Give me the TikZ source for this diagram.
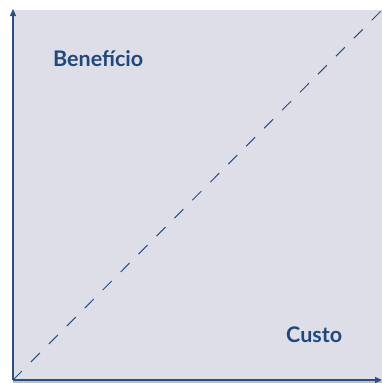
\documentclass[tikz,border=0pt]{standalone}
\usepackage{fontspec}
\setmainfont{Lato}
\usetikzlibrary{arrows.meta}
\definecolor{bgpanel}{HTML}{DEDEE8}
\definecolor{axisblue}{HTML}{2A4E80}
\definecolor{txtblue}{HTML}{1F497D}
\tikzset{
  axis/.style={draw=axisblue, line width=1.3pt, -{Triangle[length=7pt,width=6pt]}},
  diag/.style={draw=axisblue, line width=1pt, dash pattern=on 12.7pt off 12.7pt},
  lbl/.style={text=txtblue, font=\bfseries\fontsize{21.5}{24}\selectfont, inner sep=0pt, anchor=base west}
}
\begin{document}
\begin{tikzpicture}[x=1pt,y=-1pt]
\useasboundingbox (0,0) rectangle (382,383);
\fill[white] (0,0) rectangle (382,383);
\fill[bgpanel] (13,10) rectangle (382,380);
\fill[black!25] (13,381) rectangle (382,383);
\coordinate (o) at (13,380);
\coordinate (ytop) at (13,9);
\coordinate (xend) at (382,380);
\coordinate (tr) at (382,10);
\draw[diag] (o) -- (tr);
\draw[axis] (o) -- (ytop);
\draw[axis] (o) -- (xend);
\node[lbl] (ben) at (53,66) {Benefício};
\node[lbl] (cus) at (286,342.5) {Custo};
\end{tikzpicture}
\end{document}
